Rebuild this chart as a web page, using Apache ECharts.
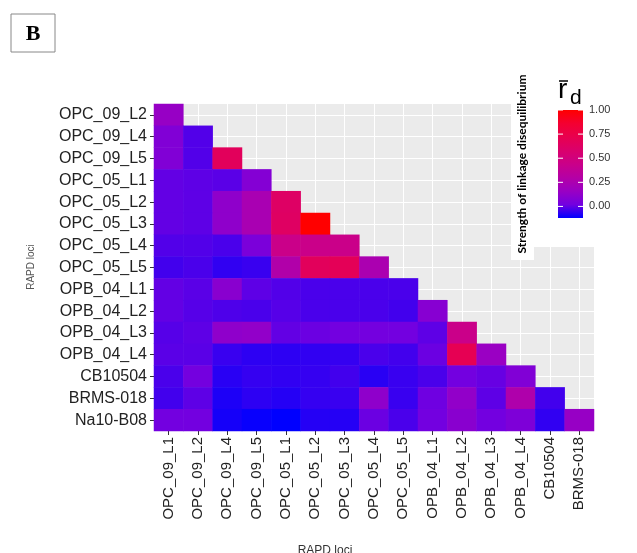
<!DOCTYPE html>
<html>
<head>
<meta charset="utf-8">
<script src="https://cdn.jsdelivr.net/npm/echarts@6/dist/echarts.min.js"></script>
<style>
html, body { margin: 0; padding: 0; background: #fff; }
#ld { width: 637px; height: 553px; }
</style>
</head>
<body>
<div id="ld"></div>
<script>
// loci on each axis
var xLoci = ["OPC_09_L1", "OPC_09_L2", "OPC_09_L4", "OPC_09_L5", "OPC_05_L1", "OPC_05_L2", "OPC_05_L3", "OPC_05_L4", "OPC_05_L5", "OPB_04_L1", "OPB_04_L2", "OPB_04_L3", "OPB_04_L4", "CB10504", "BRMS-018"];
var yLoci = ["OPC_09_L2", "OPC_09_L4", "OPC_09_L5", "OPC_05_L1", "OPC_05_L2", "OPC_05_L3", "OPC_05_L4", "OPC_05_L5", "OPB_04_L1", "OPB_04_L2", "OPB_04_L3", "OPB_04_L4", "CB10504", "BRMS-018", "Na10-B08"];

// mean r_d, one row per y locus (lower triangle only)
var rdRows = [
	[0.15],
	[0.07, -0.02],
	[0.07, -0.02, 0.66],
	[0.0, -0.005, -0.01, 0.08],
	[0.0, -0.005, 0.12, 0.24, 0.62],
	[0.0, -0.005, 0.12, 0.24, 0.63, 1.0],
	[-0.02, -0.02, -0.03, 0.05, 0.44, 0.44, 0.44],
	[-0.04, -0.03, -0.06, -0.05, 0.28, 0.66, 0.68, 0.25],
	[0.0, -0.01, 0.1, -0.005, -0.02, -0.03, -0.03, -0.03, -0.03],
	[0.0, -0.015, -0.025, -0.03, -0.015, -0.03, -0.03, -0.03, -0.04, 0.09],
	[-0.015, -0.005, 0.12, 0.13, 0.0, 0.01, 0.02, 0.025, 0.02, -0.005, 0.44],
	[-0.01, -0.01, -0.05, -0.065, -0.065, -0.06, -0.055, -0.03, -0.04, 0.01, 0.7, 0.16],
	[-0.03, 0.025, -0.07, -0.055, -0.06, -0.055, -0.04, -0.07, -0.05, -0.03, 0.02, 0.005, 0.07],
	[-0.04, -0.005, -0.085, -0.065, -0.075, -0.055, -0.05, 0.12, -0.05, 0.015, 0.13, -0.005, 0.27, -0.04],
	[0.02, 0.02, -0.095, -0.11, -0.12, -0.075, -0.075, 0.01, -0.03, 0.02, 0.1, 0.02, 0.06, -0.06, 0.15]
];

var legendTicks = [0, 0.25, 0.5, 0.75, 1];
var rdMin = -0.12;
var rdMax = 1;

// blue -> red (Lab like steps)
var rampColors = ['#0000FF', '#7300E0', '#9A00C3', '#B500A5', '#CA0089', '#DA006C', '#E8004F', '#F40031', '#FF0000'];

var cells = [];
for (var i = 0; i < rdRows.length; i++) {
	for (var j = 0; j < rdRows[i].length; j++) {
		cells.push([j, i, rdRows[i][j]]);
	}
}

var gridLines = [];
for (var k = 0; k < xLoci.length; k++) gridLines.push({ xAxis: k });
for (var k = 0; k < yLoci.length; k++) gridLines.push({ yAxis: k });

// colour bar box
var barX = 558, barTop = 110, barW = 25, barH = 108;
var stops = [];
for (var s = 0; s < rampColors.length; s++) {
	stops.push({ offset: s / (rampColors.length - 1), color: rampColors[s] });
}
var legendParts = [
	{ type: 'rect', z: 100, shape: { x: 511, y: 63, width: 23, height: 197 }, style: { fill: '#fff' } },
	{ type: 'rect', z: 100, shape: { x: 534, y: 63, width: 103, height: 184 }, style: { fill: '#fff' } },
	{
		type: 'text', z: 101, x: 522, y: 164, rotation: Math.PI / 2,
		style: {
			text: 'Strength of linkage disequilibrium', fontFamily: 'Lato', fontWeight: 'bold', fontSize: 12,
			fill: '#000', align: 'center', verticalAlign: 'middle'
		}
	},
	{ type: 'text', z: 101, x: 558, y: 76, style: { text: 'r', fontFamily: 'Liberation Sans', fontSize: 28, fill: '#000' } },
	{ type: 'line', z: 101, shape: { x1: 559, y1: 81, x2: 568, y2: 81 }, style: { stroke: '#000', lineWidth: 1.5 } },
	{ type: 'text', z: 101, x: 570, y: 88, style: { text: 'd', fontFamily: 'Liberation Sans', fontSize: 21, fill: '#000' } },
	{
		type: 'rect', z: 101, shape: { x: barX, y: barTop, width: barW, height: barH },
		style: { fill: new echarts.graphic.LinearGradient(0, 1, 0, 0, stops) }
	}
];
for (var t = 0; t < legendTicks.length; t++) {
	var ty = barTop + barH - (legendTicks[t] - rdMin) / (rdMax - rdMin) * barH;
	legendParts.push({ type: 'line', z: 102, shape: { x1: barX, y1: ty, x2: barX + 5, y2: ty }, style: { stroke: '#fff', lineWidth: 1 } });
	legendParts.push({ type: 'line', z: 102, shape: { x1: barX + barW - 5, y1: ty, x2: barX + barW, y2: ty }, style: { stroke: '#fff', lineWidth: 1 } });
	legendParts.push({
		type: 'text', z: 102, x: 589, y: ty,
		style: { text: legendTicks[t].toFixed(2), fontFamily: 'Liberation Sans', fontSize: 11, fill: '#333', verticalAlign: 'middle' }
	});
}

var dom = document.getElementById("ld");
var myChart = echarts.init(dom);

var option = {
	backgroundColor: '#fff',
	animation: false,
	grid: {
		left: 154, top: 104, width: 440, height: 327,
		show: true, backgroundColor: '#EBEBEB', borderWidth: 0
	},
	xAxis: {
		type: 'category', data: xLoci,
		axisLine: { show: false },
		axisTick: { show: true, alignWithLabel: true, length: 4, lineStyle: { color: '#333' } },
		axisLabel: { rotate: 90, fontSize: 15, color: '#222', margin: 6, fontFamily: 'Liberation Sans', interval: 0 },
		splitLine: { show: false }
	},
	yAxis: {
		type: 'category', data: yLoci, inverse: true,
		axisLine: { show: false },
		axisTick: { show: true, alignWithLabel: true, length: 4, lineStyle: { color: '#333' } },
		axisLabel: { fontSize: 16, color: '#222', margin: 7, fontFamily: 'Liberation Sans', interval: 0 },
		splitLine: { show: false }
	},
	visualMap: {
		type: 'continuous', show: false, dimension: 2,
		min: rdMin, max: rdMax,
		inRange: { color: rampColors }
	},
	series: [
		{
			type: 'line', data: [], z: 1, silent: true,
			markLine: {
				silent: true, symbol: 'none', z: 1, animation: false,
				label: { show: false },
				lineStyle: { color: '#fff', width: 1, type: 'solid' },
				emphasis: { disabled: true },
				data: gridLines
			}
		},
		{
			type: 'heatmap', data: cells, z: 3,
			itemStyle: { borderWidth: 0 }
		}
	],
	graphic: [
		{ type: 'rect', z: 100, shape: { x: 11, y: 14, width: 44, height: 38 }, style: { fill: '#fff', stroke: '#888', lineWidth: 1 } },
		{ type: 'text', z: 101, x: 33, y: 34, style: { text: 'B', fontFamily: 'Liberation Serif', fontWeight: 'bold', fontSize: 22, fill: '#000', align: 'center', verticalAlign: 'middle' } },
		{ type: 'text', z: 100, x: 31, y: 267, rotation: Math.PI / 2, style: { text: 'RAPD loci', fontFamily: 'Liberation Sans', fontSize: 10, fill: '#555', align: 'center', verticalAlign: 'middle' } },
		{ type: 'text', z: 100, x: 325, y: 545, style: { text: 'RAPD loci', fontFamily: 'Liberation Sans', fontSize: 12, fill: '#333', align: 'center', verticalAlign: 'top' } }
	].concat(legendParts)
};

myChart.setOption(option);
</script>
</body>
</html>
